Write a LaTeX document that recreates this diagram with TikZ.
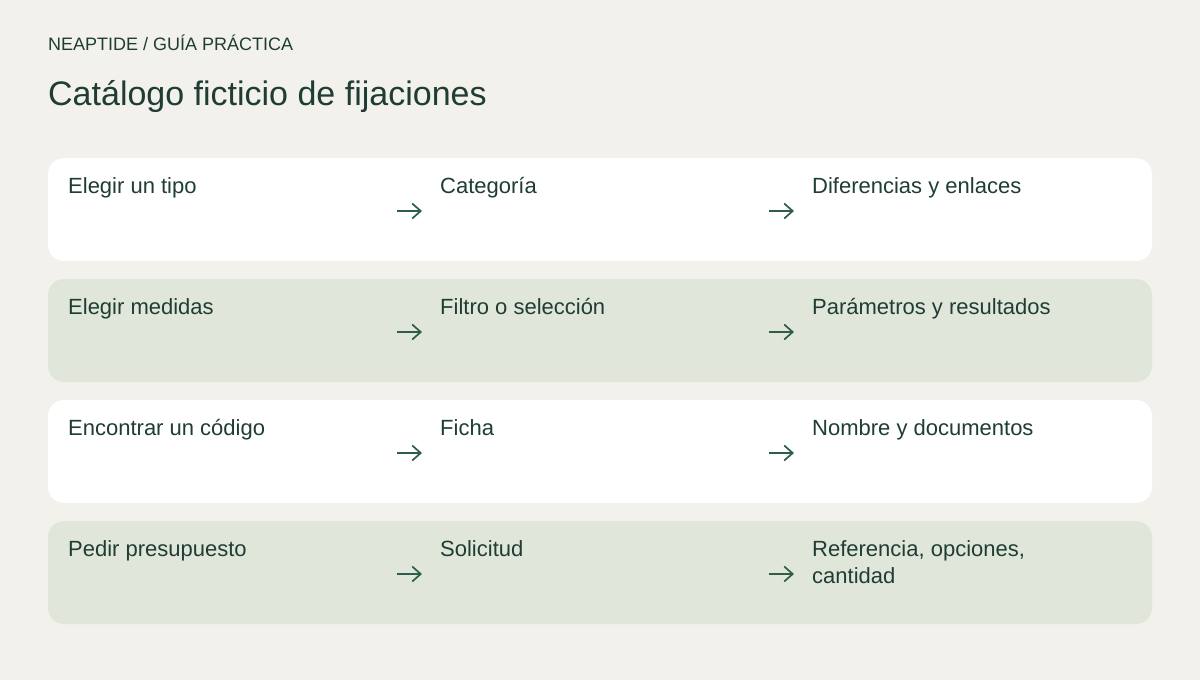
\documentclass[tikz,border=0pt]{standalone}
\usepackage{fontspec}
\setmainfont{Liberation Sans}
\usetikzlibrary{arrows.meta}
\definecolor{pagebg}{HTML}{F2F1EC}
\definecolor{rowgreen}{HTML}{E0E7DA}
\definecolor{inkgreen}{HTML}{1F3D34}
\definecolor{arrowgreen}{HTML}{2F5D4B}
\tikzset{
  rowbox/.style={rounded corners=16pt},
  celltext/.style={anchor=base west, inner sep=0pt, text=inkgreen, font=\fontsize{22}{27}\selectfont, align=left},
  steparrow/.style={draw=arrowgreen, line width=1.7pt, -{Straight Barb[length=8.5pt, width=15pt]}}
}
\begin{document}
\begin{tikzpicture}[x=1pt, y=-1pt]
\fill[pagebg] (0, 0) rectangle (1200, 680);
\useasboundingbox (0, 0) rectangle (1200, 680);
%header
\node[anchor=base west, inner sep=0pt, text=inkgreen, font=\fontsize{18}{18}\selectfont] (kicker) at (48, 50) {NEAPTIDE / GUÍA PRÁCTICA};
\node[anchor=base west, inner sep=0pt, text=inkgreen, font=\fontsize{34}{34}\selectfont] (title) at (48, 105) {Catálogo ficticio de fijaciones};
%---------------------------------------------------------
%row backgrounds, white / green / white / green
\fill[white, rowbox] (48, 158) rectangle (1152, 261);
\fill[rowgreen, rowbox] (48, 279) rectangle (1152, 382);
\fill[white, rowbox] (48, 400) rectangle (1152, 503);
\fill[rowgreen, rowbox] (48, 521) rectangle (1152, 624);
%---------------------------------------------------------
%row 1
\node[celltext] (tipo) at (68, 193) {Elegir un tipo};
\node[celltext] (categoria) at (440, 193) {Categoría};
\node[celltext] (diferencias) at (812, 193) {Diferencias y enlaces};
\coordinate (tipoarrow) at (397, 211);
\coordinate (categoriaarrow) at (769, 211);
\draw[steparrow] (tipoarrow) -- ++(25, 0);
\draw[steparrow] (categoriaarrow) -- ++(25, 0);
%row 2
\node[celltext] (medidas) at (68, 314) {Elegir medidas};
\node[celltext] (filtro) at (440, 314) {Filtro o selección};
\node[celltext] (parametros) at (812, 314) {Parámetros y resultados};
\coordinate (medidasarrow) at (397, 332);
\coordinate (filtroarrow) at (769, 332);
\draw[steparrow] (medidasarrow) -- ++(25, 0);
\draw[steparrow] (filtroarrow) -- ++(25, 0);
%row 3
\node[celltext] (codigo) at (68, 435) {Encontrar un código};
\node[celltext] (ficha) at (440, 435) {Ficha};
\node[celltext] (nombre) at (812, 435) {Nombre y documentos};
\coordinate (codigoarrow) at (397, 453);
\coordinate (fichaarrow) at (769, 453);
\draw[steparrow] (codigoarrow) -- ++(25, 0);
\draw[steparrow] (fichaarrow) -- ++(25, 0);
%row 4, last cell wraps to two lines
\node[celltext] (presupuesto) at (68, 556) {Pedir presupuesto};
\node[celltext] (solicitud) at (440, 556) {Solicitud};
\node[celltext, anchor=north west] (referencia) at (812, 540) {Referencia, opciones,\\cantidad};
\coordinate (presupuestoarrow) at (397, 574);
\coordinate (solicitudarrow) at (769, 574);
\draw[steparrow] (presupuestoarrow) -- ++(25, 0);
\draw[steparrow] (solicitudarrow) -- ++(25, 0);
\end{tikzpicture}
\end{document}
